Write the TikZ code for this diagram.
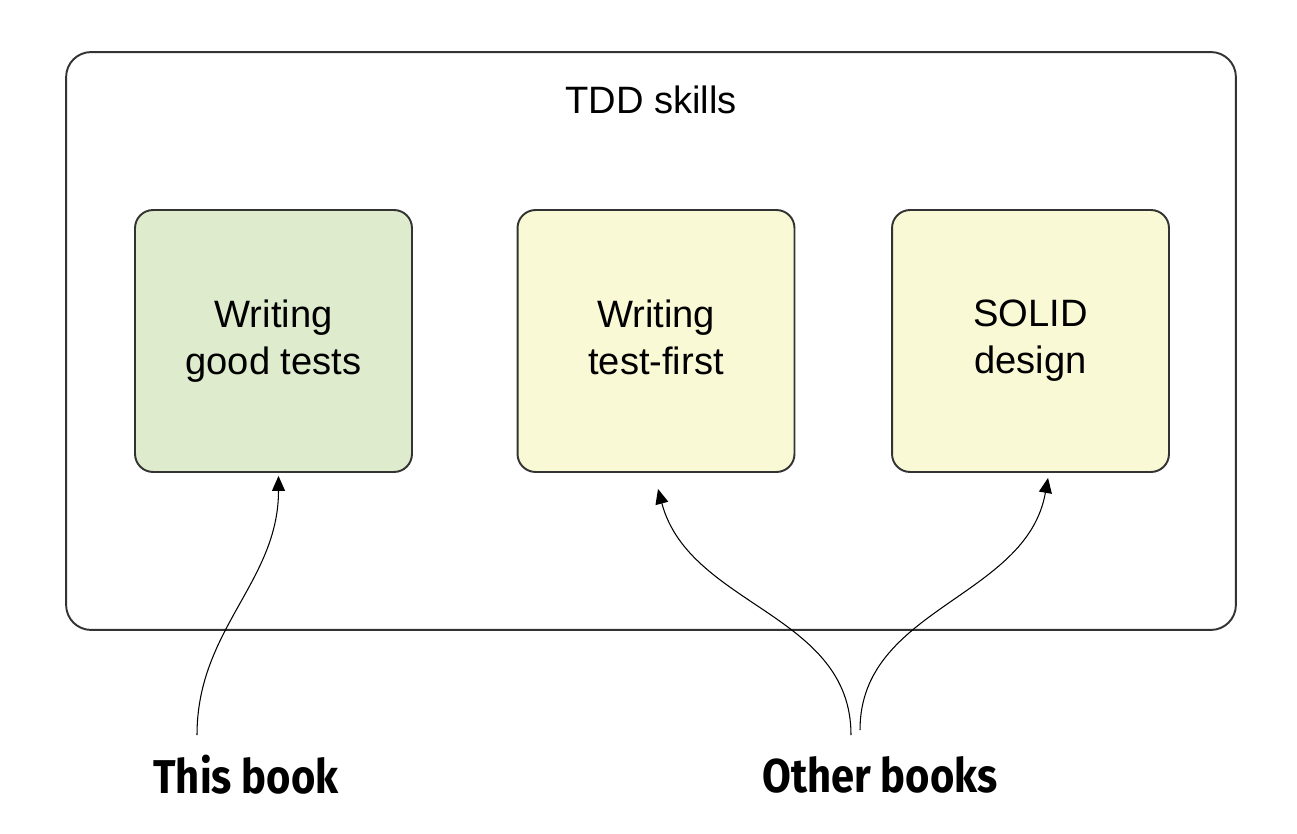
\documentclass[tikz,border=0pt]{standalone}
\usepackage{fontspec}
\setmainfont{Liberation Sans}
\newfontfamily\bookfont[FakeStretch=0.88]{Fira Sans}
\usetikzlibrary{positioning,arrows.meta}
\definecolor{tddLine}{HTML}{333333}
\definecolor{tddGreen}{HTML}{DEEBCD}
\definecolor{tddYellow}{HTML}{FAF9D6}
\tikzset{
  frame/.style={draw=tddLine, line width=1.1pt, rounded corners=0.5cm,
    minimum width=23.4cm, minimum height=11.56cm},
  skill/.style={draw=tddLine, line width=1.1pt, rounded corners=0.36cm,
    minimum width=5.54cm, minimum height=5.24cm, fill=#1},
  skill/.default=tddYellow,
  skilltext/.style={align=center, font=\fontsize{21.7}{26.2}\selectfont},
  booklabel/.style={font=\bookfont\bfseries\fontsize{27}{30}\selectfont},
  pointer/.style={draw=black, line width=0.6pt,
    -{Triangle[length=0.3cm, width=0.26cm]}},
}

\begin{document}
\begin{tikzpicture}[x=0.02cm, y=-0.02cm]
\useasboundingbox (0,0) rectangle (1297,834);

% outer frame
\node[frame] (skills) at (651,341) {};
\node[skilltext] (title) at (651,100) {TDD skills};

% the three skills
\node[skill=tddGreen] (good) at (273.5,341) {};
\node[skill] (first) at (656,341) {};
\node[skill] (solid) at (1030.5,341) {};
\node[skilltext, anchor=north, inner sep=0pt] (goodtxt) at ([yshift=0.82cm]good.center) {Writing\\good tests};
\node[skilltext, anchor=north, inner sep=0pt] (firsttxt) at ([yshift=0.82cm]first.center) {Writing\\test-first};
\node[skilltext, anchor=north, inner sep=0pt] (solidtxt) at ([yshift=0.82cm]solid.center) {SOLID\\design};

% who covers what
\node[booklabel] (this) at (246,775) {This book};
\node[booklabel] (other) at (880,775) {Other books};
\coordinate (thisfoot) at (197,735);
\coordinate (otherfootL) at (851,735);
\coordinate (otherfootR) at (860,730);

\draw[pointer] (thisfoot) to[out=90, in=-90] ([xshift=0.1cm, yshift=-0.06cm]good.south);
\draw[pointer] (otherfootL) to[out=90, in=-75] ([xshift=0.04cm, yshift=-0.32cm]first.south);
\draw[pointer] (otherfootR) to[out=90, in=-100] ([xshift=0.35cm, yshift=-0.1cm]solid.south);

\end{tikzpicture}
\end{document}
